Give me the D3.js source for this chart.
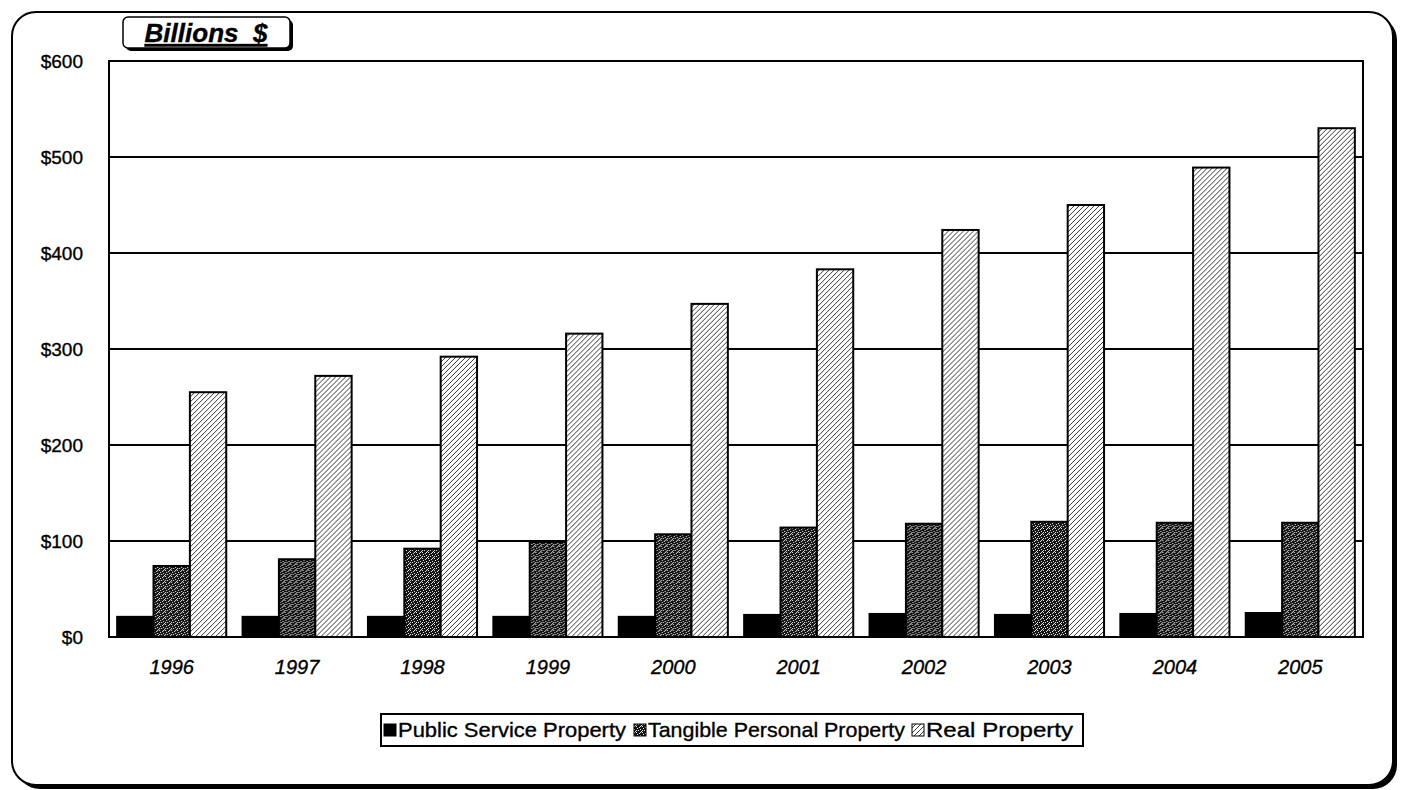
<!DOCTYPE html>
<html>
<head>
<meta charset="utf-8">
<script src="https://cdn.jsdelivr.net/npm/d3@7"></script>
<style>
  body { margin: 0; background: #fff; }
  text { font-family: "Liberation Sans", Arial, sans-serif; fill: #000; stroke: #000; stroke-width: 0.35px; }
</style>
</head>
<body>
<svg id="chart" width="1402" height="790"></svg>
<script>
// Assessed property values, billions of dollars
const years = ["1996", "1997", "1998", "1999", "2000", "2001", "2002", "2003", "2004", "2005"];
const publicService = [21, 21, 21, 21, 21, 23, 24, 23, 24, 25];
const tangiblePersonal = [74, 81, 92, 99, 107, 114, 118, 120, 119, 119];
const realProperty = [255, 272, 292, 316, 347, 383, 424, 450, 489, 530];
const seriesNames = ["Public Service Property", "Tangible Personal Property", "Real Property"];
const yTicks = [0, 100, 200, 300, 400, 500, 600];
const unitLabel = "Billions  $";

const seriesValues = [publicService, tangiblePersonal, realProperty];
const rows = years.map((y, i) => ({ year: y, values: seriesValues.map(s => s[i]) }));

const svg = d3.select("#chart");
const plot = { left: 109, top: 61, right: 1363, bottom: 637 };

// ---- fill patterns ----
const defs = svg.append("defs");

// dark stipple for tangible personal property
const stip = defs.append("pattern").attr("id", "stipple")
  .attr("patternUnits", "userSpaceOnUse").attr("width", 6).attr("height", 6);
stip.append("rect").attr("width", 6).attr("height", 6).attr("fill", "#141414");
[[0,0],[3,1],[1,2],[4,3],[2,4],[5,5],[4,0],[0,4]].forEach(([x, y]) =>
  stip.append("rect").attr("x", x).attr("y", y).attr("width", 1).attr("height", 1).attr("fill", "#e8e8e8"));

// diagonal hatch for real property
const hatch = defs.append("pattern").attr("id", "hatch")
  .attr("patternUnits", "userSpaceOnUse").attr("width", 5).attr("height", 5);
hatch.append("rect").attr("width", 5).attr("height", 5).attr("fill", "#fff");
hatch.append("path").attr("d", "M-1,1 L1,-1 M0,5 L5,0 M4,6 L6,4")
  .attr("stroke", "#222").attr("stroke-width", 0.9);

const fills = ["#000", "url(#stipple)", "url(#hatch)"];

// ---- outer frame with drop shadow ----
svg.append("rect").attr("x", 16).attr("y", 16).attr("width", 1381).attr("height", 773)
  .attr("rx", 24).attr("fill", "#000");
svg.append("rect").attr("x", 12).attr("y", 12).attr("width", 1381).attr("height", 773)
  .attr("rx", 24).attr("fill", "#fff").attr("stroke", "#000").attr("stroke-width", 2);

// ---- scales ----
const x0 = d3.scaleBand().domain(years).range([plot.left, plot.right])
  .paddingInner(0.13).paddingOuter(0.065);
const x1 = d3.scaleBand().domain(d3.range(seriesNames.length)).range([0, x0.bandwidth()]).padding(0);
const y = d3.scaleLinear().domain([0, 600]).range([plot.bottom, plot.top]);

// ---- gridlines ----
svg.append("g").selectAll("line").data(yTicks.filter(t => t > 0 && t < 600)).join("line")
  .attr("x1", plot.left).attr("x2", plot.right)
  .attr("y1", d => y(d)).attr("y2", d => y(d))
  .attr("stroke", "#000").attr("stroke-width", 2);

// ---- bars ----
const groups = svg.append("g").selectAll("g").data(rows).join("g")
  .attr("transform", d => `translate(${x0(d.year)},0)`);
groups.selectAll("rect").data(d => d.values.map((v, i) => ({ i, v }))).join("rect")
  .attr("x", d => x1(d.i))
  .attr("y", d => y(d.v))
  .attr("width", x1.bandwidth())
  .attr("height", d => y(0) - y(d.v))
  .attr("fill", d => fills[d.i])
  .attr("stroke", "#000").attr("stroke-width", 2);

// ---- plot border ----
svg.append("rect").attr("x", plot.left).attr("y", plot.top)
  .attr("width", plot.right - plot.left).attr("height", plot.bottom - plot.top)
  .attr("fill", "none").attr("stroke", "#000").attr("stroke-width", 2);

// ---- y axis labels ----
const yAxis = d3.axisLeft(y).tickValues(yTicks).tickFormat(d => "$" + d).tickSize(0).tickPadding(26);
const yg = svg.append("g").attr("transform", `translate(${plot.left},0)`).call(yAxis);
yg.select(".domain").remove();
yg.attr("font-size", null).attr("font-family", null);
yg.selectAll("text").style("font-size", "19px");

// ---- x axis labels ----
const xAxis = d3.axisBottom(x0).tickSize(0).tickPadding(23);
const xg = svg.append("g").attr("transform", `translate(0,${plot.bottom})`).call(xAxis);
xg.select(".domain").remove();
xg.attr("font-size", null).attr("font-family", null);
xg.selectAll("text").style("font-size", "20px").style("font-style", "italic");

// ---- unit label box ----
svg.append("rect").attr("x", 126).attr("y", 20).attr("width", 167).attr("height", 31)
  .attr("rx", 5).attr("fill", "#000");
svg.append("rect").attr("x", 123).attr("y", 17).attr("width", 167).attr("height", 31)
  .attr("rx", 5).attr("fill", "#fff").attr("stroke", "#000").attr("stroke-width", 1.5);
svg.append("text").attr("x", 206).attr("y", 42).attr("text-anchor", "middle")
  .style("font-size", "26px").style("font-weight", "bold").style("font-style", "italic")
  .attr("text-decoration", "underline").style("white-space", "pre")
  .text(unitLabel);

// ---- legend ----
const legend = svg.append("g");
legend.append("rect").attr("x", 381).attr("y", 714).attr("width", 702).attr("height", 32)
  .attr("fill", "#fff").attr("stroke", "#000").attr("stroke-width", 2);
const legendX = [384, 634, 912];
const legendTextWidth = [228, 257, 147];
seriesNames.forEach((name, i) => {
  legend.append("rect").attr("x", legendX[i]).attr("y", 724).attr("width", 12).attr("height", 12)
    .attr("fill", fills[i]).attr("stroke", "#000").attr("stroke-width", 1);
  legend.append("text").attr("x", legendX[i] + 14).attr("y", 737)
    .attr("textLength", legendTextWidth[i]).attr("lengthAdjust", "spacingAndGlyphs")
    .style("font-size", "21px").text(name);
});
</script>
</body>
</html>
